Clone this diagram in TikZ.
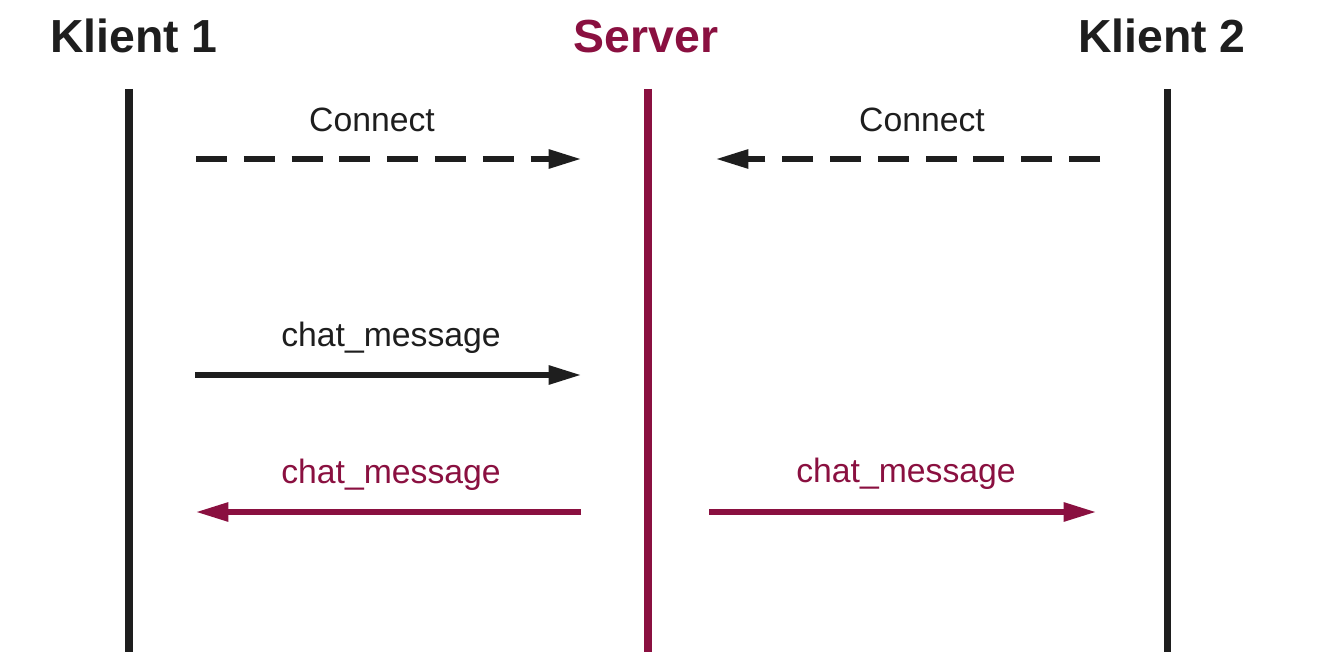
\documentclass[tikz,border=0pt]{standalone}
\usepackage{fontspec}
\setmainfont{Liberation Sans}
\usetikzlibrary{arrows.meta}
\definecolor{srvred}{HTML}{8A1040}
\definecolor{ink}{HTML}{1E1E1E}
\tikzset{
	title/.style={anchor=base, font=\fontsize{33}{38}\selectfont\bfseries},
	msg/.style={anchor=base, font=\fontsize{24}{28}\selectfont},
	lifeline/.style={line width=5pt},
	msgarrow/.style={line width=3.6pt, -{Triangle[length=23pt,width=13pt]}}
}
\begin{document}
\begin{tikzpicture}
		\useasboundingbox (0,0) rectangle (33,16.5);
		
		%Titles
		\node (klient1) at (3.35,15.19) [title, text=ink]{Klient 1};
		\node (server) at (16.15,15.19) [title, text=srvred]{Server};
		\node (klient2) at (29.05,15.19) [title, text=ink]{Klient 2};
		
		%Lifelines
		\coordinate (k1top) at (3.225,14.275);
		\coordinate (k1bot) at (3.225,0.2);
		\coordinate (srvtop) at (16.2,14.275);
		\coordinate (srvbot) at (16.2,0.2);
		\coordinate (k2top) at (29.175,14.275);
		\coordinate (k2bot) at (29.175,0.2);
		\draw[lifeline, ink] (k1top) -- (k1bot);
		\draw[lifeline, srvred] (srvtop) -- (srvbot);
		\draw[lifeline, ink] (k2top) -- (k2bot);
		
		%Connect
		\node (connect1) at (9.3,13.2) [msg, text=ink]{Connect};
		\node (connect2) at (23.05,13.2) [msg, text=ink]{Connect};
		\coordinate (c1start) at (4.9,12.525);
		\coordinate (c1end) at (14.525,12.525);
		\coordinate (c2start) at (27.5,12.525);
		\coordinate (c2end) at (17.9,12.525);
		\draw[msgarrow, ink, dash pattern=on 22pt off 12pt] (c1start) -- (c1end);
		\draw[msgarrow, ink, dash pattern=on 22pt off 12pt] (c2start) -- (c2end);
		
		%Chat message from Klient 1
		\node (chat1) at (9.775,7.85) [msg, text=ink]{chat\_message};
		\coordinate (m1start) at (4.875,7.125);
		\coordinate (m1end) at (14.525,7.125);
		\draw[msgarrow, ink] (m1start) -- (m1end);
		
		%Broadcast from Server
		\node (chat2) at (9.775,4.425) [msg, text=srvred]{chat\_message};
		\node (chat3) at (22.65,4.45) [msg, text=srvred]{chat\_message};
		\coordinate (m2start) at (14.525,3.7);
		\coordinate (m2end) at (4.9,3.7);
		\coordinate (m3start) at (17.725,3.7);
		\coordinate (m3end) at (27.4,3.7);
		\draw[msgarrow, srvred] (m2start) -- (m2end);
		\draw[msgarrow, srvred] (m3start) -- (m3end);
		
\end{tikzpicture}
\end{document}
